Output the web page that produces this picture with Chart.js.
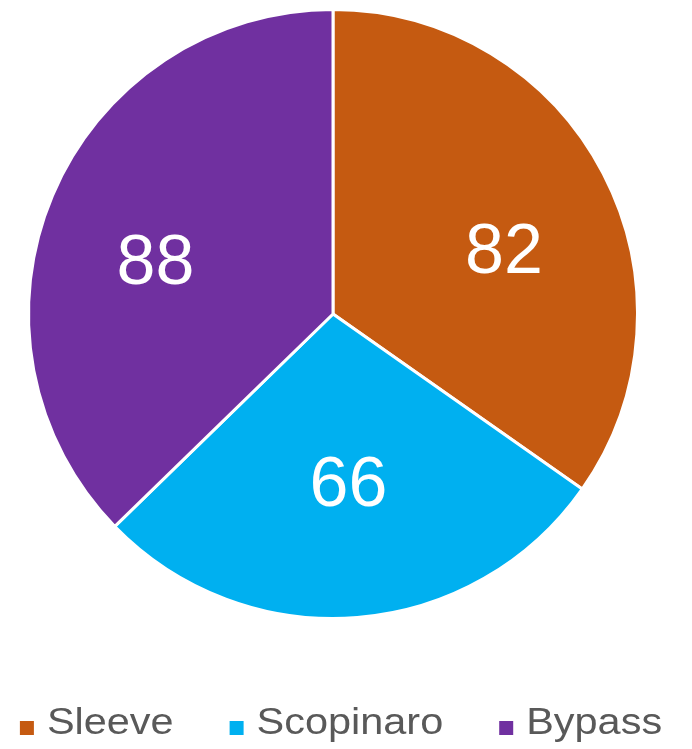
<!DOCTYPE html>
<html>
<head>
<meta charset="utf-8">
<script src="https://cdn.jsdelivr.net/npm/chart.js@4.4.0/dist/chart.umd.min.js"></script>
<style>
  html, body { margin: 0; padding: 0; background: #fff; }
  #wrap { width: 692px; height: 749px; position: relative; }
</style>
</head>
<body>
<div id="wrap"><canvas id="pieChart"></canvas></div>
<script>
const labels = ['Sleeve', 'Scopinaro', 'Bypass'];
const values = [82, 66, 88];
const colors = ['#C55A11', '#00B0F0', '#7030A0'];

// white numbers inside each slice
const sliceLabels = {
  id: 'sliceLabels',
  afterDatasetsDraw(chart) {
    const ctx = chart.ctx;
    const meta = chart.getDatasetMeta(0);
    ctx.save();
    ctx.fillStyle = '#fff';
    ctx.font = '70px "Liberation Sans", Arial, sans-serif';
    ctx.textAlign = 'center';
    ctx.textBaseline = 'middle';
    meta.data.forEach((arc, i) => {
      const p = arc.getProps(['x', 'y', 'startAngle', 'endAngle', 'outerRadius']);
      const mid = (p.startAngle + p.endAngle) / 2;
      const r = p.outerRadius * 0.6;
      // excel-ish placement: a bit wider, a bit flatter than the plain mid-angle point
      const lx = p.x + Math.cos(mid) * r * 1.055;
      const ly = p.y + Math.sin(mid) * r * 0.876;
      ctx.fillText(String(values[i]), lx, ly + 13);
    });
    ctx.restore();
  }
};

// legend row under the pie
const bottomLegend = {
  id: 'bottomLegend',
  afterDraw(chart) {
    const ctx = chart.ctx;
    const box = 14, gap = 13, spacing = 56, stretch = 1.12;
    const baseline = 734;
    ctx.save();
    ctx.font = '37px "Liberation Sans", Arial, sans-serif';
    ctx.textBaseline = 'alphabetic';
    ctx.textAlign = 'left';
    const widths = labels.map(t => box + gap + ctx.measureText(t).width * stretch);
    const total = widths.reduce((a, b) => a + b, 0) + spacing * (labels.length - 1);
    let x = 341 - total / 2;
    labels.forEach((t, i) => {
      ctx.fillStyle = colors[i];
      ctx.fillRect(x, baseline - box + 1, box, box);
      ctx.fillStyle = '#595959';
      ctx.save();
      ctx.translate(x + box + gap, baseline);
      ctx.scale(stretch, 1);
      ctx.fillText(t, 0, 0);
      ctx.restore();
      x += widths[i] + spacing;
    });
    ctx.restore();
  }
};

new Chart(document.getElementById('pieChart'), {
  type: 'pie',
  data: {
    labels: labels,
    datasets: [{
      data: values,
      backgroundColor: colors,
      borderColor: '#fff',
      borderWidth: 3,
      hoverOffset: 0
    }]
  },
  options: {
    responsive: true,
    maintainAspectRatio: false,
    animation: false,
    layout: { padding: { left: 27, top: 7, right: 53, bottom: 128 } },
    plugins: {
      legend: { display: false },
      tooltip: { enabled: false }
    }
  },
  plugins: [sliceLabels, bottomLegend]
});
</script>
</body>
</html>
